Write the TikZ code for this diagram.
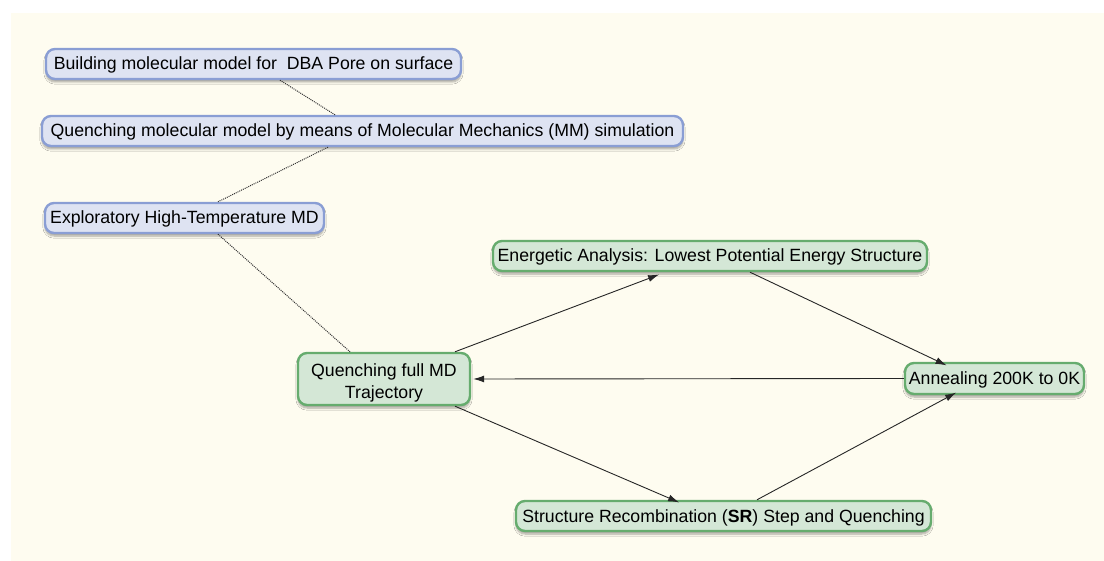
\documentclass[tikz,border=0pt]{standalone}
\usepackage{fontspec}
\setmainfont{Liberation Sans}
\usetikzlibrary{arrows.meta,shadows.blur}
\definecolor{bgcream}{HTML}{FEFCF0}
\definecolor{bluefill}{HTML}{DEE3F2}
\definecolor{blueline}{HTML}{8A9ED4}
\definecolor{greenfill}{HTML}{D4E7D6}
\definecolor{greenline}{HTML}{66AC6E}
\tikzset{
  boxbase/.style={rounded corners=9pt, line width=2.4pt, inner sep=1pt, align=center,
    font=\fontsize{17.7pt}{21.5pt}\selectfont,
    blur shadow={shadow xshift=0pt, shadow yshift=-3pt, shadow blur steps=6, shadow opacity=35}},
  oneline/.style={text height=15pt, text depth=3pt},
  bluebox/.style={boxbase, oneline, draw=blueline, fill=bluefill},
  greenbox/.style={boxbase, draw=greenline, fill=greenfill},
  dotlink/.style={densely dotted, line width=1pt, draw=black!80},
  arrowlink/.style={line width=0.9pt, draw=black!85, -{Latex[length=11pt,width=7pt]}, shorten >=1pt},
}
\begin{document}
\begin{tikzpicture}[x=1pt,y=-1pt]
\useasboundingbox (0,0) rectangle (1104,561);
\fill[bgcream] (11,13) rectangle (1104,561);

\node[bluebox, minimum width=415pt, minimum height=30pt] (build) at (253.5,64)
  {Building molecular model for\ \ DBA Pore on surface};
\node[bluebox, minimum width=641pt, minimum height=30pt] (qmm) at (362.5,131)
  {Quenching molecular model by means of Molecular Mechanics (MM) simulation};
\node[bluebox, minimum width=279pt, minimum height=30pt] (expl) at (184.5,218)
  {Exploratory High-Temperature MD};

\node[greenbox, oneline, minimum width=434pt, minimum height=30pt] (ener) at (710,256)
  {Energetic Analysis: Lowest Potential Energy Structure};
\node[greenbox, minimum width=172pt, minimum height=52pt] (qf) at (384,379)
  {\rule{0pt}{21pt}Quenching full MD\\Trajectory};
\node[greenbox, oneline, minimum width=179pt, minimum height=31pt] (ann) at (994.5,378.5)
  {Annealing 200K to 0K};
\node[greenbox, oneline, minimum width=415pt, minimum height=30pt] (sr) at (723.5,516)
  {Structure Recombination (\textbf{SR}) Step and Quenching};

\draw[dotlink] ([xshift=26.5pt]build.south) -- ([xshift=-27.5pt]qmm.north);
\draw[dotlink] ([xshift=-34.5pt]qmm.south) -- ([xshift=33.5pt]expl.north);
\draw[dotlink] ([xshift=33.5pt]expl.south) -- ([xshift=-34pt]qf.north);

\draw[arrowlink] ([xshift=71pt]qf.north) -- ([xshift=-50pt,yshift=-2pt]ener.south);
\draw[arrowlink] ([xshift=40pt]ener.south) -- ([xshift=-47pt,yshift=-4pt]ann.north);
\draw[arrowlink] (ann.west) -- ([xshift=1pt]qf.east);
\draw[arrowlink] ([xshift=71pt]qf.south) -- ([xshift=-43.5pt,yshift=-3pt]sr.north);
\draw[arrowlink] ([xshift=33.5pt]sr.north) -- ([xshift=-37.5pt,yshift=3pt]ann.south);
\end{tikzpicture}
\end{document}
